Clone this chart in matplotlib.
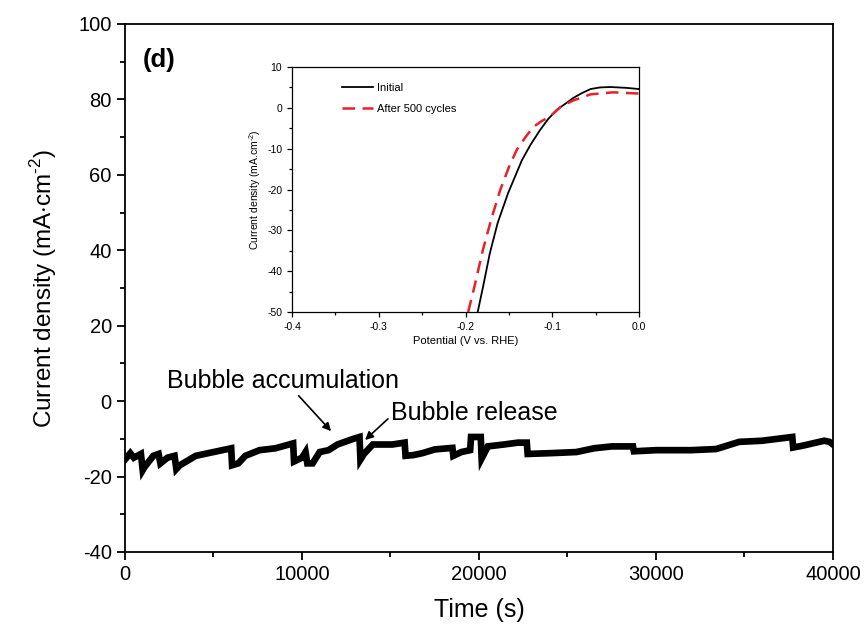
import numpy as np
import matplotlib
matplotlib.use('Agg')
import matplotlib.pyplot as plt
from matplotlib.ticker import MultipleLocator, FuncFormatter

plt.rcParams['font.family'] = ['Liberation Sans', 'DejaVu Sans']
plt.rcParams['axes.unicode_minus'] = False
plt.rcParams['mathtext.fontset'] = 'custom'
plt.rcParams['mathtext.rm'] = 'Liberation Sans'

# main trace: time (s) vs current density
time_s = [0, 300, 500, 900, 1000, 1100, 1600, 1900, 2000, 2400, 2800, 2900, 3100,
          4000, 5000, 6000, 6050, 6400, 6800, 7600, 8500, 9500, 9550, 10000, 10200,
          10300, 10600, 11000, 11500, 12000, 12900, 13250, 13300, 13500, 14000, 14500,
          15100, 15800, 15850, 16300, 16800, 17500, 18500, 18550, 19000, 19500, 19550,
          20100, 20150, 20500, 21400, 22200, 22700, 22750, 24000, 25500, 26500, 27500,
          28700, 28750, 30000, 31000, 32000, 33400, 34700, 36000, 37700, 37750, 38300,
          39500, 39800, 40000]
current = [-15.5, -13.8, -15, -14, -18.3, -17.5, -14.5, -14, -16.5, -15, -14.5, -18, -17,
           -14.5, -13.5, -12.5, -17, -16.5, -14.5, -13, -12.5, -11.2, -16, -15, -13.5,
           -16.5, -16.5, -13.5, -13, -11.5, -10, -9.5, -15.5, -14, -11.5, -11.5,
           -11.5, -11.0, -14.5, -14.3, -13.8, -12.8, -12.4, -14.5, -13.5, -13, -9.5,
           -9.5, -15.2, -12, -11.5, -11, -11, -14, -13.8, -13.5, -12.5, -12,
           -12, -13.3, -13, -13, -13, -12.7, -10.8, -10.5, -9.5, -12.3, -11.8,
           -10.5, -10.8, -11.5]

# inset LSV curves
pot_init = [-0.186, -0.180, -0.172, -0.163, -0.151, -0.135, -0.125, -0.114, -0.105,
            -0.095, -0.085, -0.076, -0.066, -0.056, -0.045, -0.033, -0.015, 0.0]
cur_init = [-50, -44, -35.6, -28.2, -20.9, -12.8, -9, -5.4, -2.8,
            -0.5, 1.0, 2.4, 3.6, 4.6, 5.0, 5.1, 4.9, 4.6]
pot_500 = [-0.197, -0.190, -0.180, -0.170, -0.160, -0.150, -0.141, -0.131, -0.122,
           -0.112, -0.103, -0.090, -0.076, -0.056, -0.030, 0.0]
cur_500 = [-50, -44, -34.8, -27, -20.1, -14.5, -10.3, -7.2, -4.7,
           -3.2, -2.2, 0.3, 1.8, 3.3, 3.8, 3.5]

fig = plt.figure(figsize=(8.65, 6.31), dpi=100)
ax = fig.add_axes([0.1445, 0.1252, 0.8185, 0.8368])
ax.plot(time_s, current, color='black', lw=4.8, solid_joinstyle='miter')
ax.set_xlim(0, 40000)
ax.set_ylim(-40, 100)
ax.xaxis.set_major_locator(MultipleLocator(10000))
ax.xaxis.set_minor_locator(MultipleLocator(5000))
ax.yaxis.set_major_locator(MultipleLocator(20))
ax.yaxis.set_minor_locator(MultipleLocator(10))
ax.tick_params(which='major', direction='out', length=6, width=1.3, labelsize=14.5)
ax.tick_params(which='minor', direction='out', length=3.5, width=1.3)
for s in ax.spines.values():
    s.set_linewidth(1.3)
ax.set_xlabel('Time (s)', fontsize=18, labelpad=10)
ax.set_ylabel('Current density (mA$\\cdot$cm$^{\\text{-2}}$)', fontsize=17.5, labelpad=14)
ax.text(1000, 90.5, '(d)', fontsize=18.5, fontweight='bold', va='center')

ax.text(8900, 5.3, 'Bubble accumulation', fontsize=18, ha='center', va='center')
ax.annotate('', xy=(11750, -8.5), xytext=(9700, 2.0),
            arrowprops=dict(arrowstyle='-|>', color='black', lw=1.2, mutation_scale=12))
ax.text(15030, -3.2, 'Bubble release', fontsize=18, ha='left', va='center')
ax.annotate('', xy=(13450, -10.8), xytext=(14970, -4.2),
            arrowprops=dict(arrowstyle='-|>', color='black', lw=1.2, mutation_scale=12))

# inset
ins = fig.add_axes([0.3376, 0.5055, 0.4012, 0.3883])
ins.plot(pot_init, cur_init, color='black', lw=1.3, label='Initial')
ins.plot(pot_500, cur_500, color='#e8202a', lw=1.8, ls=(0, (5, 3)), label='After 500 cycles')
ins.set_xlim(-0.4, 0.0)
ins.set_ylim(-50, 10)
ins.xaxis.set_major_locator(MultipleLocator(0.1))
ins.xaxis.set_minor_locator(MultipleLocator(0.05))
ins.yaxis.set_major_locator(MultipleLocator(10))
ins.yaxis.set_minor_locator(MultipleLocator(5))
ins.xaxis.set_major_formatter(FuncFormatter(lambda v, p: '%.1f' % v))
ins.tick_params(which='major', direction='out', length=3.5, width=0.9, labelsize=7.5)
ins.tick_params(which='minor', direction='out', length=2, width=0.9)
for s in ins.spines.values():
    s.set_linewidth(0.9)
ins.set_xlabel('Potential (V vs. RHE)', fontsize=8, labelpad=3)
ins.set_ylabel('Current density (mA.cm$^{\\text{-2}}$)', fontsize=7.5, labelpad=3)
ins.legend(loc='upper left', frameon=False, fontsize=8, handlelength=2.8,
           labelspacing=1.0, borderaxespad=1.0, bbox_to_anchor=(0.1, 1.0), handletextpad=0.3)

fig.savefig('out.png', dpi=100)
